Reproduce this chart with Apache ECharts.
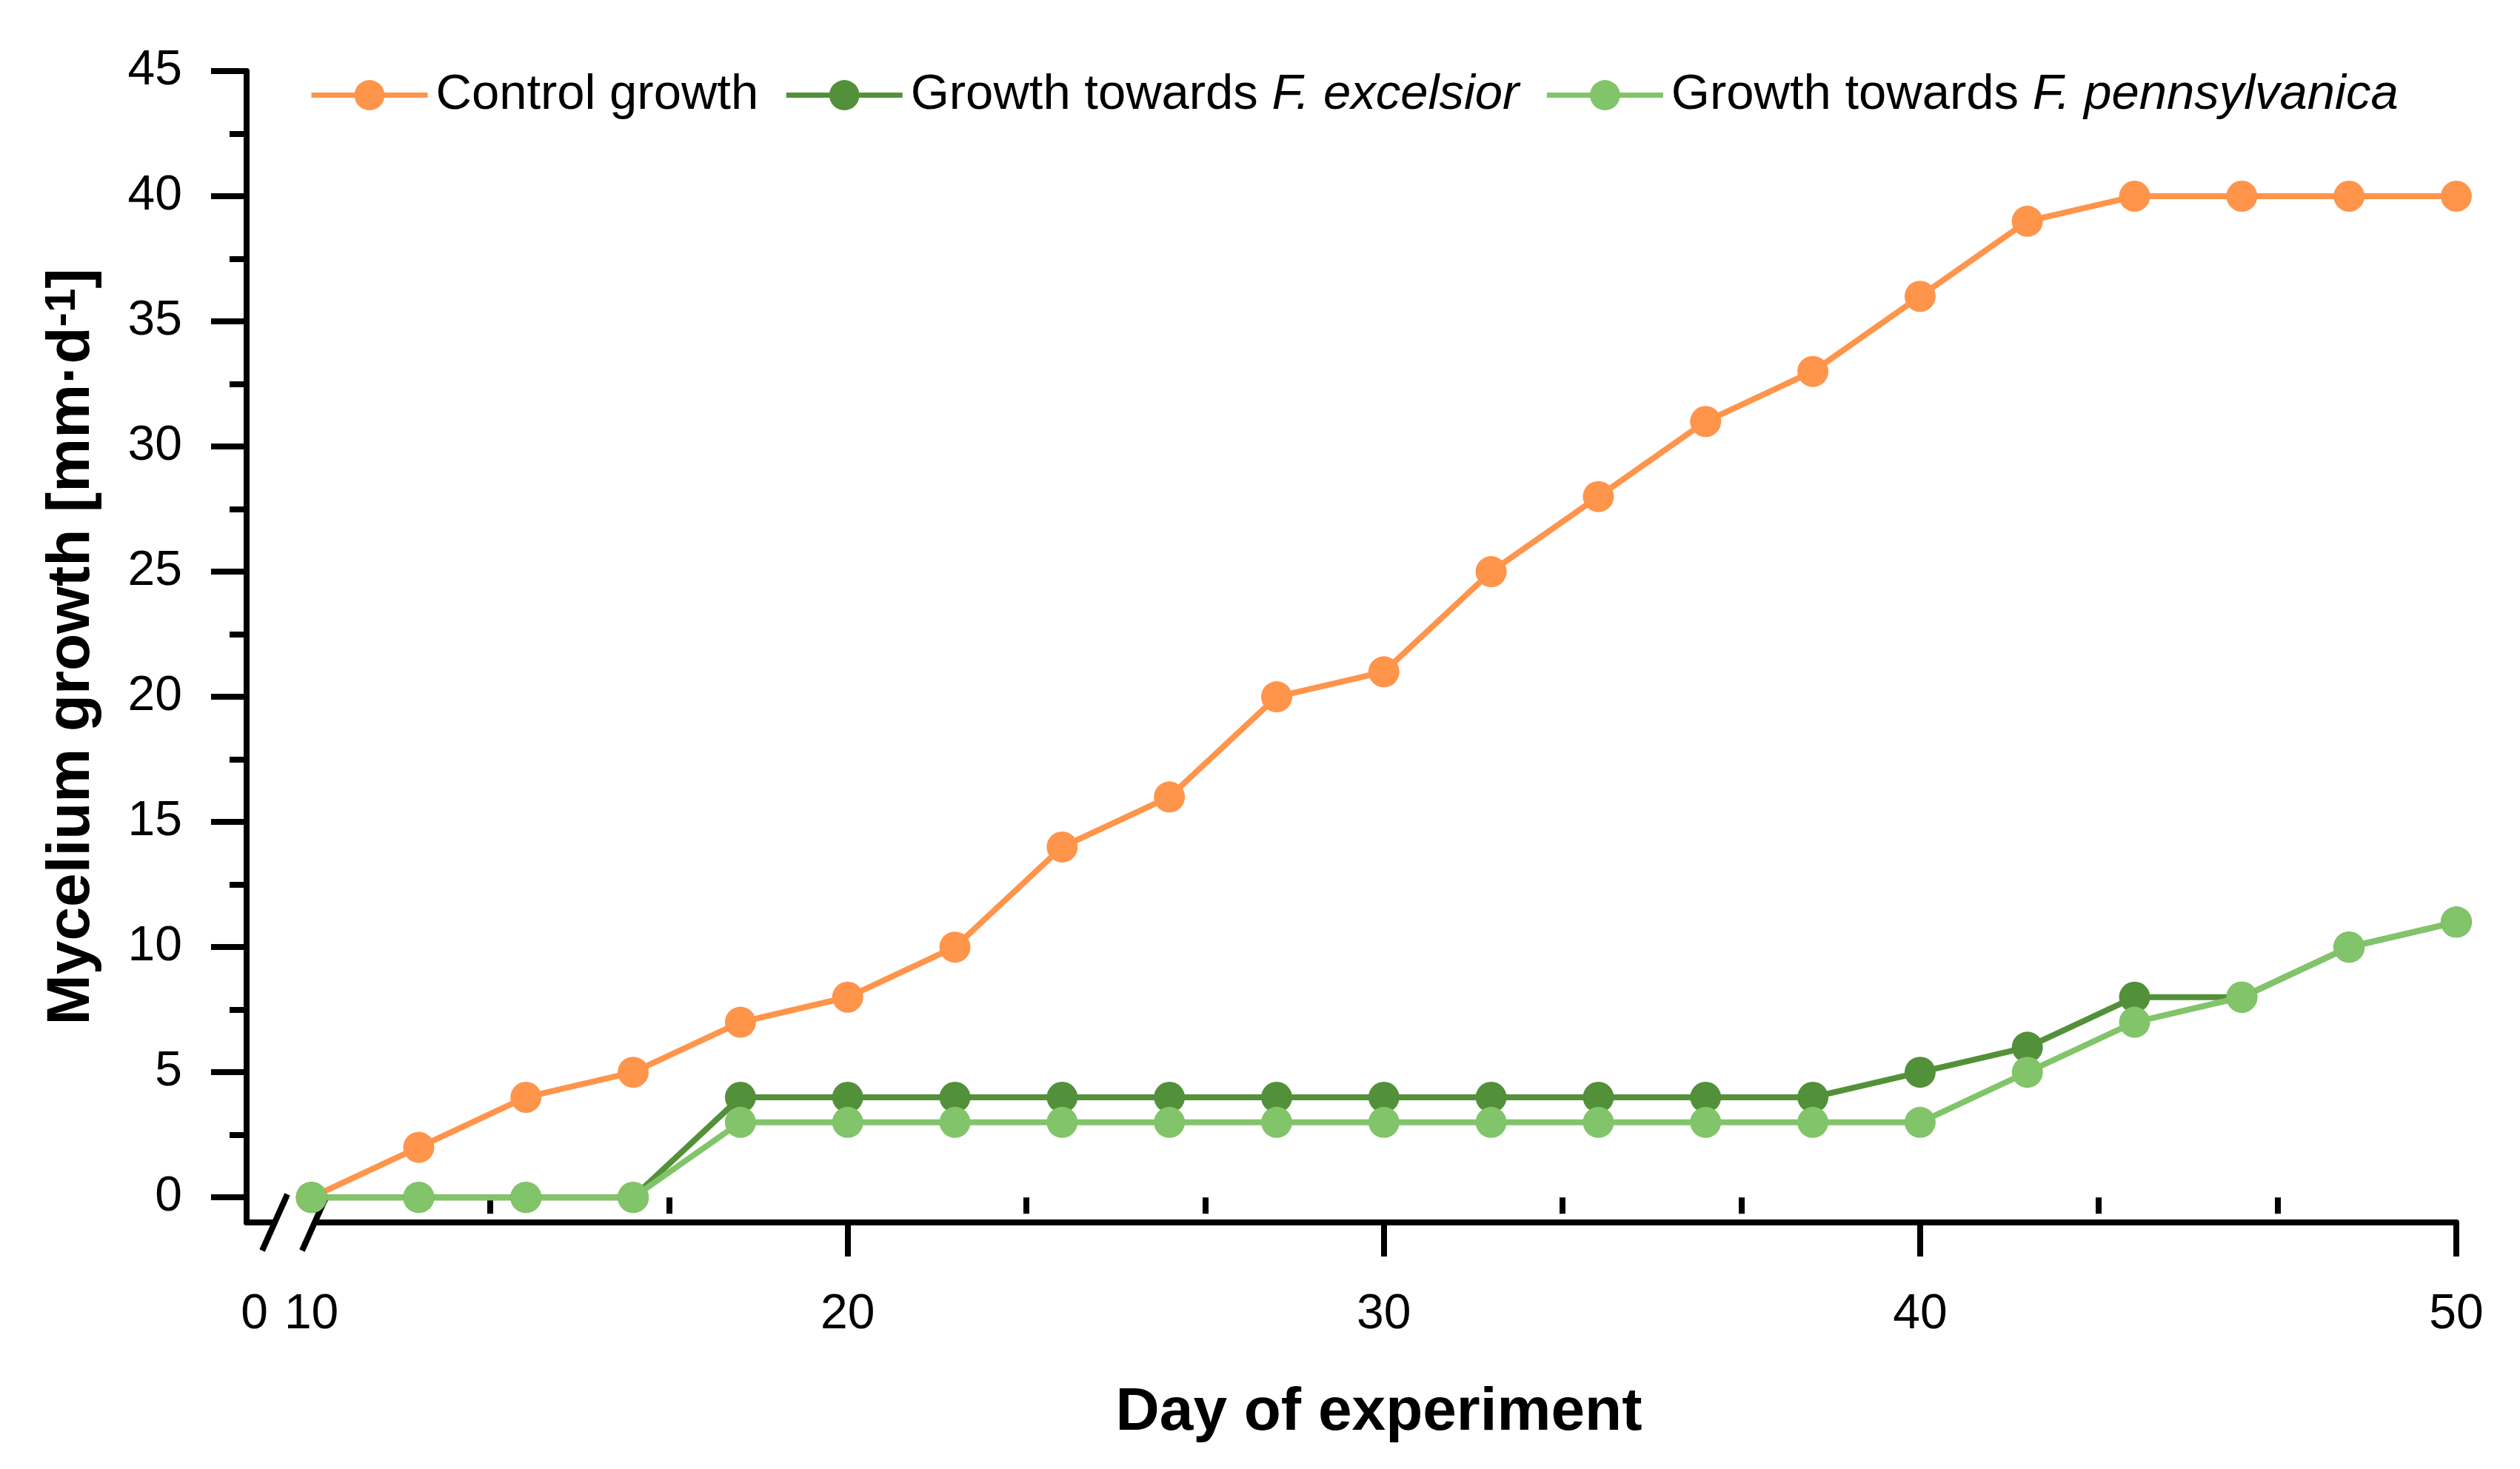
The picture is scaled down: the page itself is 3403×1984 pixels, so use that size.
<!DOCTYPE html>
<html>
<head>
<meta charset="utf-8">
<script src="https://cdn.jsdelivr.net/npm/echarts@6/dist/echarts.min.js"></script>
<style>
    html, body { margin: 0; padding: 0; background: #fff; }
    #chart { width: 3403px; height: 1984px; }
</style>
</head>
<body>
<div id="chart"></div>
<script>
var FONT = '"Liberation Sans", Arial, sans-serif';

// data
var days = [10, 12, 14, 16, 18, 20, 22, 24, 26, 28, 30, 32, 34, 36, 38, 40, 42, 44, 46, 48, 50];
var controlGrowth = [0, 2, 4, 5, 7, 8, 10, 14, 16, 20, 21, 25, 28, 31, 33, 36, 39, 40, 40, 40, 40];
var excelsiorGrowth = [0, 0, 0, 0, 4, 4, 4, 4, 4, 4, 4, 4, 4, 4, 4, 5, 6, 8, 8, 10, 11];
var pennsylvanicaGrowth = [0, 0, 0, 0, 3, 3, 3, 3, 3, 3, 3, 3, 3, 3, 3, 3, 5, 7, 8, 10, 11];
var seriesNames = ['Control growth', 'Growth towards F. excelsior', 'Growth towards F. pennsylvanica'];
var seriesColors = ['#FF944B', '#53903A', '#82C46A'];

// axis ticks / labels
var xLabelValues = [8.935, 10, 20, 30, 40, 50];   // first one is the "0" before the break
var xMajorTicks = [20, 30, 40, 50];
var xMinorTicks = [13.333, 16.667, 23.333, 26.667, 33.333, 36.667, 43.333, 46.667];
var yTickValues = [0, 5, 10, 15, 20, 25, 30, 35, 40, 45];
var yMinorTicks = [2.5, 7.5, 12.5, 17.5, 22.5, 27.5, 32.5, 37.5, 42.5];

var X_MIN = 8.79, X_MAX = 50;
var Y_MIN = -1, Y_MAX = 45;
var BREAK_MARKS = [9.315, 10.06];

function pairs(values) {
    return days.map(function(d, i) { return [d, values[i]]; });
}

function lineSeries(index, values) {
    return {
        name: seriesNames[index],
        type: 'line',
        data: pairs(values),
        symbol: 'circle',
        symbolSize: 42,
        lineStyle: { color: seriesColors[index], width: 8 },
        itemStyle: { color: seriesColors[index] },
        emphasis: { disabled: true },
        z: 2
    };
}

var option = {
    animation: false,
    backgroundColor: '#fff',
    textStyle: { fontFamily: FONT },
    grid: { left: 333, right: 86, top: 96, bottom: 333, outerBoundsMode: 'none', containLabel: false },
    legend: {
        left: 417,
        top: 95,
        padding: 0,
        itemWidth: 157,
        itemHeight: 51,
        itemGap: 34,
        data: seriesNames,
        lineStyle: { width: 7 },
        textStyle: {
            fontSize: 67, color: '#000', fontFamily: FONT, padding: [0, 0, 0, 6],
            rich: {
                n: { fontSize: 67, color: '#000', fontFamily: FONT },
                i: { fontSize: 67, color: '#000', fontFamily: FONT, fontStyle: 'italic' }
            }
        },
        formatter: function(name) {
            var k = name.indexOf('F. ');
            if (k < 0) {
                return '{n|' + name + '}';
            }
            return '{n|' + name.slice(0, k) + '}{i|' + name.slice(k) + '}';
        }
    },
    xAxis: [{
        type: 'value',
        min: X_MIN,
        max: X_MAX,
        name: 'Day of experiment',
        nameLocation: 'middle',
        nameGap: 216,
        nameTextStyle: { fontSize: 82, fontWeight: 'bold', color: '#000', fontFamily: FONT, padding: [0, 0, 0, 74] },
        splitLine: { show: false },
        axisLine: { show: true, onZero: false, lineStyle: { color: '#000', width: 8 } },
        axisTick: { show: true, customValues: xMajorTicks, length: 46, lineStyle: { color: '#000', width: 8 } },
        axisLabel: {
            customValues: xLabelValues,
            margin: 92,
            fontSize: 66,
            color: '#000',
            fontFamily: FONT,
            formatter: function(v) { return v < 10 ? '0' : String(v); }
        }
    }, {
        type: 'value',
        min: X_MIN,
        max: X_MAX,
        position: 'bottom',
        splitLine: { show: false },
        axisLine: { show: false },
        axisTick: { show: true, customValues: xMinorTicks, length: 22, lineStyle: { color: '#000', width: 8 } },
        axisLabel: { show: false }
    }],
    yAxis: [{
        type: 'value',
        min: Y_MIN,
        max: Y_MAX,
        position: 'left',
        name: '{a|Mycelium growth [mm·d}{s|-1}{a|]}',
        nameLocation: 'middle',
        nameRotate: 90,
        nameGap: 195,
        nameTextStyle: {
            rich: {
                a: { fontSize: 82, fontWeight: 'bold', color: '#000', fontFamily: FONT },
                s: { fontSize: 58, fontWeight: 'bold', color: '#000', fontFamily: FONT, verticalAlign: 'top' }
            }
        },
        splitLine: { show: false },
        axisLine: { show: true, onZero: false, lineStyle: { color: '#000', width: 8 } },
        axisTick: { show: true, customValues: yTickValues, length: 48, lineStyle: { color: '#000', width: 8 } },
        axisLabel: {
            customValues: yTickValues,
            margin: 87,
            fontSize: 66,
            color: '#000',
            fontFamily: FONT
        }
    }, {
        type: 'value',
        min: Y_MIN,
        max: Y_MAX,
        position: 'left',
        splitLine: { show: false },
        axisLine: { show: false },
        axisTick: { show: true, customValues: yMinorTicks, length: 23, lineStyle: { color: '#000', width: 8 } },
        axisLabel: { show: false }
    }],
    series: [
        lineSeries(0, controlGrowth),
        lineSeries(1, excelsiorGrowth),
        lineSeries(2, pennsylvanicaGrowth)
    ]
};

var chart = echarts.init(document.getElementById('chart'));
chart.setOption(option);
drawAxisBreak();

// the "//" mark on the x axis between 0 and 10
function drawAxisBreak() {
    var a = chart.convertToPixel({ xAxisIndex: 0, yAxisIndex: 0 }, [BREAK_MARKS[0], Y_MIN]);
    var b = chart.convertToPixel({ xAxisIndex: 0, yAxisIndex: 0 }, [BREAK_MARKS[1], Y_MIN]);
    var slash = function(p) {
        return {
            type: 'line',
            z: 1,
            shape: { x1: p[0] + 17, y1: p[1] - 38, x2: p[0] - 17, y2: p[1] + 38 },
            style: { stroke: '#000', lineWidth: 8 }
        };
    };
    chart.setOption({
        graphic: [{
            type: 'rect',
            z: 1,
            shape: { x: a[0], y: a[1] - 8, width: b[0] - a[0], height: 16 },
            style: { fill: '#fff' }
        }, slash(a), slash(b)]
    });
}
</script>
</body>
</html>
